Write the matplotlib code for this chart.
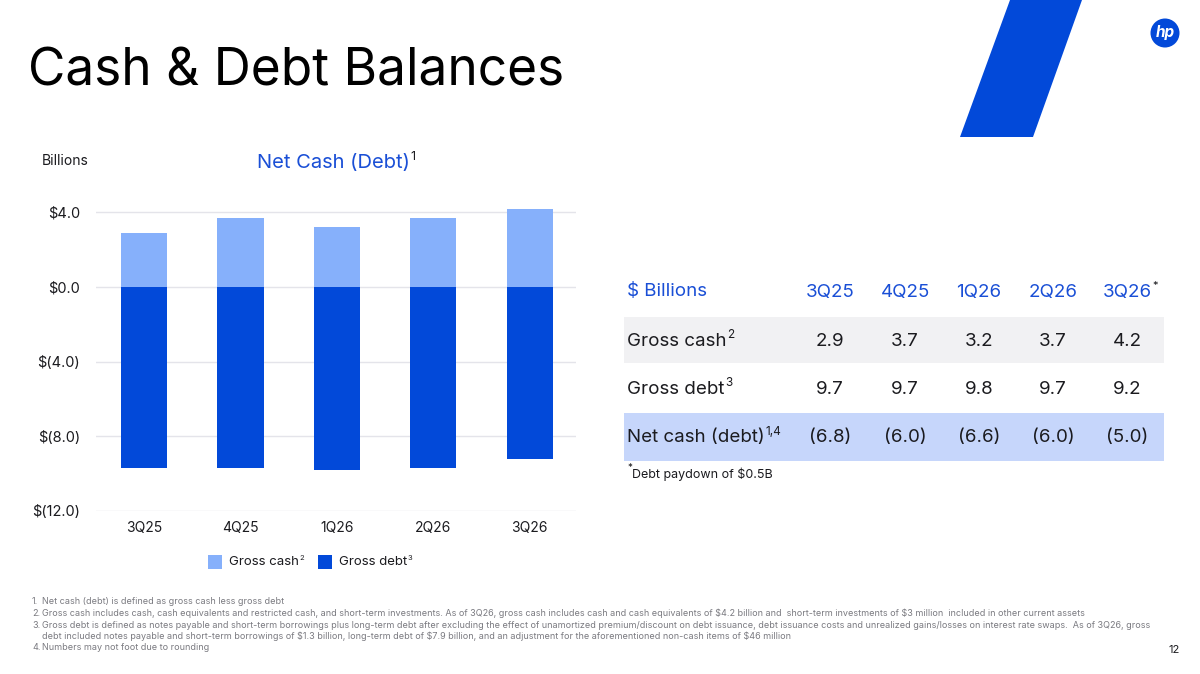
import matplotlib.pyplot as plt
from matplotlib.patches import Rectangle, Polygon, Circle

quarters = ["3Q25", "4Q25", "1Q26", "2Q26", "3Q26"]
gross_cash = [2.9, 3.7, 3.2, 3.7, 4.2]
gross_debt = [9.7, 9.7, 9.8, 9.7, 9.2]
net_cash = [-6.8, -6.0, -6.6, -6.0, -5.0]
yticks = [4, 0, -4, -8, -12]
ytick_labels = ["$4.0", "$0.0", "$(4.0)", "$(8.0)", "$(12.0)"]

footnotes = [
    ("1.", "Net cash (debt) is defined as gross cash less gross debt"),
    ("2.", "Gross cash includes cash, cash equivalents and restricted cash, and short-term investments. As of 3Q26, gross cash includes cash and cash equivalents of $4.2 billion and  short-term investments of $3 million  included in other current assets"),
    ("3.", "Gross debt is defined as notes payable and short-term borrowings plus long-term debt after excluding the effect of unamortized premium/discount on debt issuance, debt issuance costs and unrealized gains/losses on interest rate swaps.  As of 3Q26, gross"),
    ("", "debt included notes payable and short-term borrowings of $1.3 billion, long-term debt of $7.9 billion, and an adjustment for the aforementioned non-cash items of $46 million"),
    ("4.", "Numbers may not foot due to rounding"),
]

LIGHT = "#86b0fb"
DARK = "#0249d9"
TXTBLUE = "#1a4fd6"
INK = "#1b1b1f"

plt.rcParams["font.family"] = ["Inter", "DejaVu Sans"]

fig = plt.figure(figsize=(12, 6.74), dpi=100)
fig.patch.set_facecolor("white")

# background layer in pixel coordinates
bg = fig.add_axes([0, 0, 1, 1])
bg.set_xlim(0, 1200)
bg.set_ylim(674, 0)
bg.axis("off")


def sup(t, s, size=8):
    # small superscript stuck to the top right of a text
    bg.annotate(s, xy=(1, 0.85), xycoords=t, xytext=(0.5, 0), textcoords="offset points",
                fontsize=size, color=INK, va="center", ha="left")


# blue slash and logo
bg.add_patch(Polygon([(1010, 0), (1082, 0), (1033, 137), (960, 137)], closed=True, color=DARK, lw=0))
bg.add_patch(Circle((1165, 33), 14.5, color=DARK, lw=0))
bg.text(1165, 33, "hp", color="white", fontsize=11, fontweight="bold", style="italic",
        ha="center", va="center")

bg.text(28, 72, "Cash & Debt Balances", fontsize=37, color="black", va="center", ha="left")

# chart headings
bg.text(42, 161, "Billions", fontsize=10, color=INK, va="center")
t = bg.text(333, 163, "Net Cash (Debt)", fontsize=14.5, color=TXTBLUE, va="center", ha="center")
sup(t, "1", 9)

# legend
bg.add_patch(Rectangle((208, 555), 14, 14, color=LIGHT, lw=0))
t = bg.text(229, 562, "Gross cash", fontsize=9.5, color=INK, va="center")
sup(t, "2", 5.5)
bg.add_patch(Rectangle((318, 555), 14, 14, color=DARK, lw=0))
t = bg.text(339, 562, "Gross debt", fontsize=9.5, color=INK, va="center")
sup(t, "3", 5.5)

# table
cols = [830, 905, 979, 1053, 1127]
bg.add_patch(Rectangle((624, 317), 540, 46, color="#f1f1f3", lw=0))
bg.add_patch(Rectangle((624, 413), 540, 48, color="#c6d6fb", lw=0))
bg.text(627, 292, "$ Billions", fontsize=13.5, color=TXTBLUE, va="center")
for x, q in zip(cols, quarters):
    t = bg.text(x, 292, q, fontsize=13.5, color=TXTBLUE, va="center", ha="center")
sup(t, "*", 8)

rows = [
    (341, "Gross cash", "2", [f"{v:.1f}" for v in gross_cash]),
    (389, "Gross debt", "3", [f"{v:.1f}" for v in gross_debt]),
    (438, "Net cash (debt)", "1,4", [f"({abs(v):.1f})" for v in net_cash]),
]
for y, label, s, vals in rows:
    t = bg.text(627, y, label, fontsize=13.5, color=INK, va="center")
    sup(t, s, 8.5)
    for x, v in zip(cols, vals):
        bg.text(x, y, v, fontsize=13.5, color=INK, va="center", ha="center")

bg.text(627, 468, "*", fontsize=7, color=INK, va="center")
bg.text(632, 474, "Debt paydown of $0.5B", fontsize=9, color=INK, va="center")

# footnotes
for i, (num, txt) in enumerate(footnotes):
    y = [601, 613, 625, 636, 647][i]
    if num:
        bg.text(32, y, num, fontsize=6.5, color="#7a7a80", va="center")
    bg.text(42, y, txt, fontsize=6.5, color="#7a7a80", va="center", parse_math=False)

bg.text(1180, 650, "12", fontsize=8, color=INK, va="center", ha="right")

# bar chart
ax = fig.add_axes([96 / 1200, 1 - 511 / 674, 480 / 1200, 308 / 674])
x = range(len(quarters))
ax.bar(x, gross_cash, width=0.48, color=LIGHT, zorder=3)
ax.bar(x, [-v for v in gross_debt], width=0.48, color=DARK, zorder=3)
ax.set_xlim(-0.5, 4.48)
ax.set_ylim(-12, 4.5)
ax.set_yticks(yticks)
ax.set_yticklabels(ytick_labels, fontsize=10.5, color=INK)
ax.set_xticks(list(x))
ax.set_xticklabels(quarters, fontsize=10, color=INK)
ax.tick_params(axis="y", length=0, pad=11.5)
ax.tick_params(axis="x", length=0, pad=7)
ax.grid(axis="y", color="#e4e4ea", lw=1, zorder=0)
for s in ax.spines.values():
    s.set_visible(False)
ax.set_facecolor("none")

fig.savefig("out.png", dpi=100)
